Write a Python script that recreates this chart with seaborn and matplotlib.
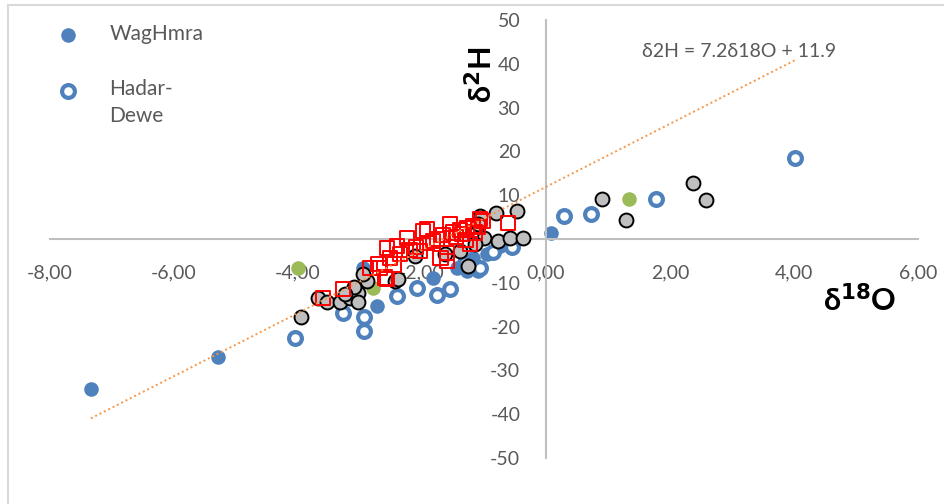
import numpy as np
import matplotlib
matplotlib.use("Agg")
import matplotlib.pyplot as plt
from matplotlib.ticker import MultipleLocator, FuncFormatter
from matplotlib.patches import Rectangle
import seaborn as sns

# WagHmra (filled blue)
wag_x = [-7.34, -5.29, 0.08, -2.73, -1.44, -2.95, -1.18, -0.95, -1.10, -1.27, -1.82, -0.75, -0.60]
wag_y = [-34.2, -27.0, 1.4, -15.3, -6.6, -6.6, -4.4, -3.4, -7.3, -7.3, -8.9, -1.5, -0.8]

# Hadar-Dewe (open blue)
had_x = [4.02, 1.77, 0.73, 0.29, -4.05, -3.27, -2.93, -2.93, -2.40, -2.08, -1.76, -1.55, -1.06, -0.55, -0.85, -1.30]
had_y = [18.6, 9.2, 5.7, 5.3, -22.7, -17.0, -17.7, -20.9, -13.0, -11.2, -12.7, -11.5, -6.7, -1.8, -3.0, -5.5]

# grey samples
grey_x = [2.37, 2.58, 0.90, 1.29, -3.95, -3.68, -3.53, -3.32, -3.16, -3.03, -3.03, -2.89, -2.44, -2.39,
          -2.11, -1.26, -1.63, -1.06, -0.80, -0.47, -1.00, -0.77, -0.58, -0.37, -1.10, -1.15, -1.39,
          -3.10, -2.95, -3.25]
grey_y = [12.8, 8.9, 9.2, 4.4, -17.7, -13.5, -14.3, -14.3, -13.5, -12.4, -14.3, -9.6, -9.6, -9.2,
          -3.9, -6.2, -3.4, 5.3, 6.0, 6.4, 0.2, -0.5, 0.2, 0.2, 3.4, -1.1, -2.8,
          -11.0, -8.0, -12.5]

# green samples
green_x = [-4.0, 1.34, -2.79]
green_y = [-6.7, 9.2, -11.2]

# red squares
red_x = [-3.60, -3.27, -2.84, -2.68, -2.56, -2.52, -2.40, -2.35, -2.24, -2.56, -2.03, -1.98, -1.92,
         -1.92, -1.76, -1.66, -1.60, -1.60, -1.55, -1.50, -1.39, -1.27, -1.23, -1.18, -1.10, -1.06,
         -1.02, -0.61, -2.10, -1.82, -1.45, -1.35, -2.20, -2.45, -1.70, -1.15, -1.30, -2.70, -2.60]
red_y = [-13.5, -11.5, -6.6, -6.6, -9.2, -4.4, -1.6, -3.4, 0.2, -2.0, -2.8, 1.8, 2.3,
         -1.0, 0.0, 1.0, -3.2, -5.0, 3.4, 1.5, 2.0, 2.5, -1.1, 3.0, 2.8, 4.6,
         4.1, 3.7, -1.8, -0.5, 0.5, 1.2, -2.5, -5.8, -4.4, 1.5, -0.3, -5.7, -8.8]

# trend line
slope = 7.2
intercept = 11.9

BLUE = "#4F81BD"
TXT = "#595959"
AX = "#BFBFBF"

sns.set_style("white")
plt.rcParams['font.family'] = ['Lato', 'DejaVu Sans']

fig = plt.figure(figsize=(9.44, 5.04), dpi=100)
ax = fig.add_axes([50 / 944, 46 / 504, 868 / 944, 438 / 504])

sns.scatterplot(x=wag_x, y=wag_y, color=BLUE, edgecolor=BLUE, s=110, linewidth=0,
                label="WagHmra", ax=ax, zorder=2)
sns.scatterplot(x=had_x, y=had_y, color="white", edgecolor=BLUE, s=85, linewidth=3,
                label="Hadar-\nDewe", ax=ax, zorder=2)
sns.scatterplot(x=green_x, y=green_y, color="#9BBB59", edgecolor="#9BBB59", s=110, linewidth=0,
                ax=ax, zorder=3)
sns.scatterplot(x=grey_x, y=grey_y, color="#BFBFBF", edgecolor="black", s=100, linewidth=1.4,
                ax=ax, zorder=4)
sns.scatterplot(x=red_x, y=red_y, marker="s", color="none", edgecolor="#FF0000", s=105,
                linewidth=1.4, ax=ax, zorder=5)

all_x = np.array(wag_x + had_x + grey_x + green_x + red_x)
line_x = np.array([all_x.min(), all_x.max()])
ax.plot(line_x, slope * line_x + intercept, linestyle=(0, (1, 1.5)), color="#F79646",
        linewidth=1.4, zorder=6)

ax.set_xlim(-8, 6)
ax.set_ylim(-50, 50)

for side in ["top", "right"]:
    ax.spines[side].set_visible(False)
ax.spines["left"].set_position(("data", 0))
ax.spines["bottom"].set_position(("data", 0))
for side in ["left", "bottom"]:
    ax.spines[side].set_color(AX)
    ax.spines[side].set_linewidth(1.5)

ax.xaxis.set_major_locator(MultipleLocator(2))
ax.xaxis.set_minor_locator(MultipleLocator(0.4))
ax.yaxis.set_major_locator(MultipleLocator(10))
ax.yaxis.set_minor_locator(MultipleLocator(2))
ax.xaxis.set_major_formatter(FuncFormatter(lambda v, p: f"{v:.2f}".replace(".", ",").replace("-0,00", "0,00")))
ax.yaxis.set_major_formatter(FuncFormatter(lambda v, p: "" if abs(v) < 1e-9 else f"{v:.0f}"))

ax.tick_params(axis="both", which="major", direction="inout", length=9, width=1.5, color=AX,
               labelsize=14, labelcolor=TXT, pad=14)
ax.tick_params(axis="both", which="minor", direction="inout", length=5, width=1.2, color=AX)

ax.text(1.55, 42.7, "δ2H = 7.2δ18O + 11.9", fontsize=14, color=TXT, va="center", ha="left")

fig.text(481 / 944, 1 - 75 / 504, "δ$^{\\mathbf{2}}$H", rotation=90, fontsize=22, fontweight="bold",
         color="black", ha="center", va="center")
fig.text(860 / 944, 1 - 300 / 504, "δ$^{\\mathbf{18}}$O", fontsize=22, fontweight="bold",
         color="black", ha="center", va="center")

leg = ax.legend(loc="upper left", bbox_to_anchor=(37 / 944, 1 - 14 / 504), bbox_transform=fig.transFigure,
                frameon=False, fontsize=15, labelspacing=1.65, handletextpad=0.97, borderpad=0)
for t in leg.get_texts():
    t.set_color(TXT)
    t.set_linespacing(1.45)
# put the Hadar-Dewe marker next to the first line of its label
h = leg.legend_handles[1]
off = h.get_offsets().copy()
off[:, 1] += 10
h.set_offsets(off)

fig.patches.append(Rectangle((8 / 944, -0.1), 1.2, 1.1 - 5 / 504, transform=fig.transFigure,
                             fill=False, edgecolor="#D9D9D9", linewidth=1.5))

fig.savefig("out.png", dpi=100)
